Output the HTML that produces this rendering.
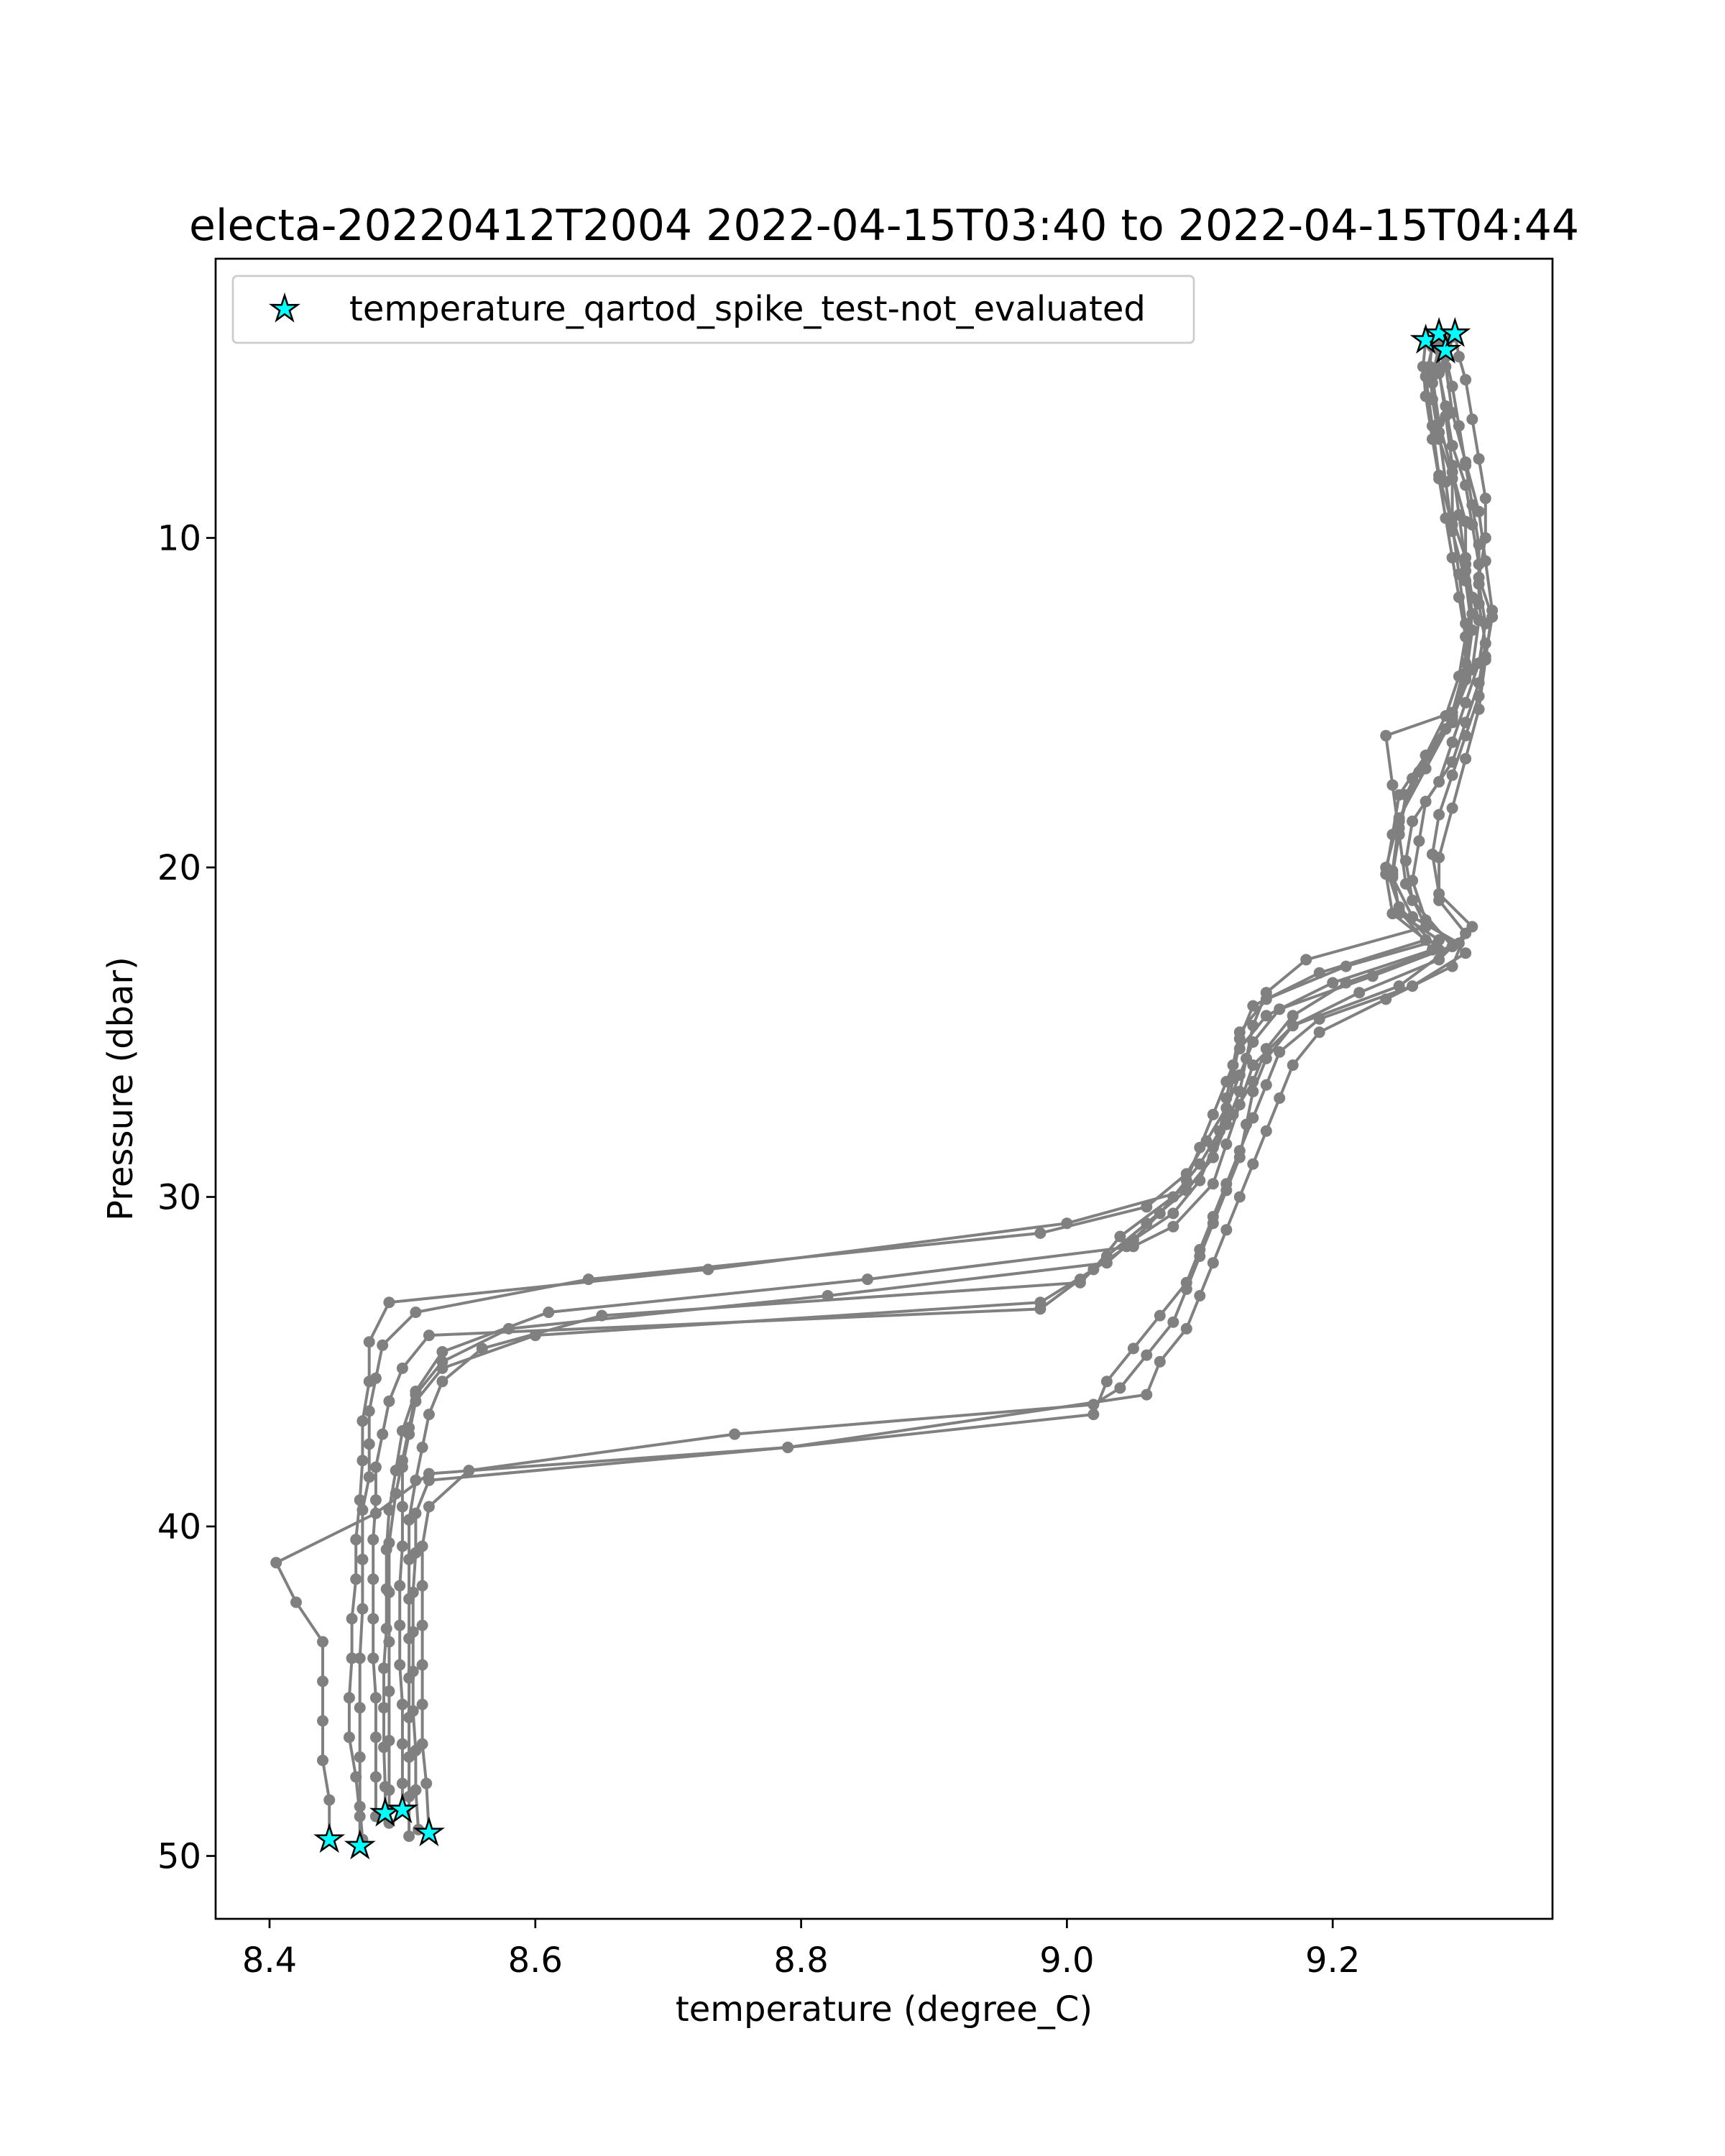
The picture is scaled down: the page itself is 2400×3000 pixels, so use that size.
<!DOCTYPE html>
<html><head><meta charset="utf-8"><style>
html,body{margin:0;padding:0;background:#fff;}
svg{display:block;font-family:"DejaVu Sans","Liberation Sans",sans-serif;}
</style></head><body>
<svg id="chart" width="2400" height="3000" viewBox="0 0 2400 3000" xmlns="http://www.w3.org/2000/svg">
<rect width="2400" height="3000" fill="#fff"/>
<text x="1230" y="334" font-size="60" text-anchor="middle">electa-20220412T2004 2022-04-15T03:40 to 2022-04-15T04:44</text>
<g id="plot"></g>
<g id="axes"></g>
<rect x="300" y="360" width="1860" height="2310" fill="none" stroke="#000" stroke-width="2.7"/>
<g>
<rect x="324" y="384" width="1337" height="93" rx="6" fill="#fff" fill-opacity="0.8" stroke="#ccc" stroke-width="2.7"/>
<path id="legstar" fill="#00ffff" stroke="#000" stroke-width="2.5"/>
<text x="486" y="446" font-size="48">temperature_qartod_spike_test-not_evaluated</text>
</g>
<text x="1230" y="2812" font-size="48" text-anchor="middle">temperature (degree_C)</text>
<text x="0" y="0" font-size="48" text-anchor="middle" transform="translate(184,1515) rotate(-90)">Pressure (dbar)</text>
</svg>
<script>
const xTicks = [8.4, 8.6, 8.8, 9.0, 9.2];
const xTickLabels = ["8.4", "8.6", "8.8", "9.0", "9.2"];
const yTicks = [10, 20, 30, 40, 50];
const yTickLabels = ["10", "20", "30", "40", "50"];
const profilePressures = [
[4.0,4.8,5.7,7,8.2,9.4,10.6,11.8,13,14.2,15.4,16.6,17.8,19,20.2,21.4,22.2,23.2,24.2,25.2,26.4,27.6,28.8,29.8,30.8,32.2,33.2,34.4,35.6,36.8,38,39.2,40.4,41.6,42.8,44,45.2,46.4,47.6,48.8,49.7],
[3.8,4.5,5.4,6.6,7.8,9,10.2,11.4,12.6,13.8,15,16.2,17.4,18.6,19.8,21,22.4,23.6,24.8,26,27.2,28.4,29.6,30.9,31.5,32.5,33.5,34.7,35.9,37.1,38.3,39.5,40.7,41.9,43.1,44.3,45.5,46.7,47.9,48.7],
[4.3,5.0,6,7.2,8.4,9.6,10.8,12,13.2,14.4,15.6,16.8,18,19.2,20.4,21.6,22.6,23.6,24.6,25.6,26.6,27.6,28.6,29.6,30.6,31.6,32.6,33.6,34.6,35.6,36.6,37.6,38.4,39.6,41.1,42.3,43.5,44.7,45.9,47.1,48.3,49.5],
[3.8,4.5,5.2,6.4,7.6,8.8,10,11.2,12.4,13.6,14.8,16,17.2,18.4,19.6,20.8,21.8,22.8,23.8,24.8,25.8,26.8,27.8,28.8,29.8,30.8,31.8,32.8,33.8,34.8,35.8,36.3,37.2,38.3,39.4,40.6,41.8,43,44.2,45.4,46.6,47.8,49.3],
[4.0,4.8,5.8,7,8.2,9.4,10.6,11.8,13,14.2,15.4,16.6,17.8,19,20.2,21.4,22.2,23,24,25,26,27,28,29,30,31.2,32.2,33.2,34.2,35.2,36.2,37.2,38.2,39.4,40.6,41.8,43,44.2,45.4,46.6,47.8,48.6],
[4.2,5.1,6.5,8,9.5,11,12.5,14,15.5,17,18.5,20,21.2,22.5,23.5,24.5,25.5,26.5,27.5,28.5,29.5,30.5,31.3,32,33,34,35,36,37,38,39,40.5,42,43.5,45,46.5,48,49],
[4.3,5.3,6.8,8.3,9.8,11.3,12.8,14.3,15.8,17.3,18.8,20.3,21.5,22.3,23.3,24.3,25.3,26.3,27.3,28.3,29.3,30.3,31.1,32.5,33.5,34.5,35.5,36.5,37.5,38.5,39.5,41,42.5,44,45.5,47,48.5,49.5],
[3.9,4.8,6.2,7.7,9.2,10.7,12.2,13.7,15.2,16.7,18.2,19.7,21,22,23,24,25,26,27,28,29,30,31,32,33,34,35,36,37.6,38.6,39.6,40.8,42,43.2,44.4,45.6,46.8,48,49.2],
[4.2,5.1,6.6,8.1,9.6,11.1,12.6,14.1,15.6,17.1,18.6,20.1,21.3,22.5,23.5,24.5,25.5,26.5,27.5,28.5,29.5,30.5,31.5,32.5,33.4,34.2,35.2,36.2,37.2,38.2,39.2,40.4,41.6,42.8,44,45.2,46.4,47.6,48.8],
[4.0,4.9,6.3,7.8,9.3,10.8,12.3,13.8,15.3,16,17.5,19,20.5,21.8,22.8,23.8,24.8,25.8,26.8,27.8,28.8,29.8,30.8,31.8,32.6,33.6,34.6,35.6,36.6,37.6,38.6,39.8,41,42.2,43.4,44.6,45.8,47,48.2,49.4]
];
const profileTemps = [
[9.27,9.268,9.27,9.275,9.28,9.285,9.29,9.295,9.30,9.30,9.29,9.27,9.25,9.245,9.24,9.245,9.27,9.19,9.14,9.13,9.125,9.12,9.11,9.09,9.0,8.73,8.49,8.475,8.475,8.47,8.47,8.468,8.465,8.465,8.462,8.462,8.46,8.46,8.465,8.468,8.468],
[9.28,9.285,9.29,9.295,9.30,9.305,9.31,9.31,9.315,9.31,9.30,9.29,9.28,9.26,9.255,9.26,9.29,9.25,9.17,9.14,9.13,9.12,9.11,9.08,9.05,8.85,8.61,8.53,8.51,8.50,8.495,8.49,8.488,8.488,8.488,8.486,8.486,8.486,8.487,8.487],
[9.285,9.28,9.285,9.29,9.30,9.305,9.31,9.31,9.315,9.31,9.30,9.29,9.27,9.265,9.26,9.27,9.30,9.26,9.19,9.16,9.15,9.14,9.13,9.12,9.11,9.10,9.09,9.07,9.05,9.03,9.02,8.79,8.52,8.48,8.405,8.42,8.44,8.44,8.44,8.44,8.445,8.445],
[9.292,9.295,9.30,9.305,9.31,9.315,9.315,9.31,9.32,9.315,9.31,9.30,9.29,9.28,9.275,9.28,9.305,9.28,9.22,9.17,9.15,9.14,9.135,9.13,9.12,9.11,9.10,9.09,9.08,9.06,9.04,9.02,8.75,8.55,8.52,8.515,8.515,8.515,8.515,8.515,8.515,8.518,8.52],
[9.275,9.273,9.275,9.28,9.29,9.29,9.30,9.305,9.30,9.295,9.285,9.27,9.255,9.25,9.245,9.25,9.28,9.21,9.15,9.13,9.125,9.12,9.115,9.10,9.08,9.04,9.02,8.98,8.60,8.53,8.51,8.505,8.50,8.50,8.50,8.498,8.498,8.498,8.50,8.50,8.50,8.50],
[9.28,9.275,9.28,9.29,9.30,9.30,9.31,9.305,9.29,9.27,9.25,9.24,9.25,9.28,9.21,9.17,9.15,9.14,9.125,9.11,9.10,9.08,9.05,9.03,8.82,8.58,8.53,8.51,8.505,8.50,8.495,8.49,8.49,8.49,8.49,8.49,8.49,8.49],
[9.28,9.275,9.28,9.285,9.29,9.30,9.305,9.30,9.285,9.26,9.25,9.245,9.26,9.295,9.23,9.16,9.14,9.13,9.12,9.105,9.09,9.06,8.98,8.64,8.51,8.485,8.48,8.475,8.475,8.475,8.47,8.47,8.47,8.468,8.468,8.468,8.468,8.47],
[9.29,9.285,9.29,9.30,9.31,9.315,9.32,9.315,9.31,9.30,9.29,9.28,9.28,9.30,9.29,9.24,9.19,9.17,9.16,9.15,9.14,9.13,9.12,9.11,9.10,9.09,9.07,9.06,8.79,8.52,8.51,8.51,8.508,8.508,8.508,8.508,8.51,8.51,8.512],
[9.275,9.27,9.275,9.28,9.29,9.295,9.30,9.30,9.29,9.265,9.25,9.245,9.25,9.275,9.20,9.15,9.13,9.12,9.11,9.10,9.09,9.07,9.045,9.01,8.98,8.52,8.50,8.49,8.485,8.48,8.48,8.478,8.478,8.478,8.478,8.48,8.48,8.48,8.48],
[9.28,9.28,9.285,9.29,9.295,9.30,9.305,9.30,9.29,9.24,9.245,9.25,9.255,9.27,9.18,9.15,9.14,9.135,9.13,9.12,9.11,9.09,9.06,9.03,9.01,8.65,8.56,8.53,8.52,8.515,8.51,8.505,8.505,8.505,8.505,8.505,8.505,8.505,8.505,8.505]
];
const starTemps = [9.27, 9.28, 9.285, 9.292, 8.445, 8.468, 8.487, 8.50, 8.52];
const starPressures = [4.0, 3.8, 4.3, 3.8, 49.5, 49.7, 48.7, 48.6, 49.3];

const NS = "http://www.w3.org/2000/svg";
function xScale(t){ return 375 + (t - 8.4) * 1849; }
function yScale(p){ return 748.5 + (p - 10) * 45.85; }
function starPath(cx, cy, R){
  const r = R * 0.38; let d = "";
  for (let i = 0; i < 10; i++){
    const a = -Math.PI/2 + i*Math.PI/5, rr = i%2 ? r : R;
    d += (i ? "L" : "M") + (cx + rr*Math.cos(a)).toFixed(1) + "," + (cy + rr*Math.sin(a)).toFixed(1);
  }
  return d + "Z";
}
const plot = document.getElementById("plot");
const axes = document.getElementById("axes");
profileTemps.forEach((temps, k) => {
  const pres = profilePressures[k];
  const n = Math.min(temps.length, pres.length);
  const g = document.createElementNS(NS, "g");
  
  
  let pts = [];
  for (let i = 0; i < n; i++) pts.push(xScale(temps[i]).toFixed(1) + "," + yScale(pres[i]).toFixed(1));
  const pl = document.createElementNS(NS, "polyline");
  pl.setAttribute("points", pts.join(" "));
  pl.setAttribute("fill", "none"); pl.setAttribute("stroke", "#808080"); pl.setAttribute("stroke-width", "4");
  
  
  g.appendChild(pl);
  for (let i = 0; i < n; i++){
    const c = document.createElementNS(NS, "circle");
    c.setAttribute("cx", xScale(temps[i]).toFixed(1)); c.setAttribute("cy", yScale(pres[i]).toFixed(1));
    c.setAttribute("r", "8"); c.setAttribute("fill", "#808080");
    
    
    g.appendChild(c);
  }
  plot.appendChild(g);
});
starTemps.forEach((t, i) => {
  const s = document.createElementNS(NS, "path");
  s.setAttribute("d", starPath(xScale(t), yScale(starPressures[i]), 19));
  s.setAttribute("fill", "#00ffff"); s.setAttribute("stroke", "#000"); s.setAttribute("stroke-width", "2.5");
  
  
  plot.appendChild(s);
});
document.getElementById("legstar").setAttribute("d", starPath(396, 430, 19));
xTicks.forEach((v, i) => {
  const x = xScale(v);
  const l = document.createElementNS(NS, "line");
  l.setAttribute("x1", x); l.setAttribute("x2", x); l.setAttribute("y1", 2670); l.setAttribute("y2", 2683);
  l.setAttribute("stroke", "#000"); l.setAttribute("stroke-width", "2.7");
  
  
  axes.appendChild(l);
  const tx = document.createElementNS(NS, "text");
  tx.setAttribute("x", x); tx.setAttribute("y", 2744); tx.setAttribute("font-size", "48"); tx.setAttribute("text-anchor", "middle");
  tx.textContent = xTickLabels[i];
  
  
  axes.appendChild(tx);
});
yTicks.forEach((v, i) => {
  const y = yScale(v);
  const l = document.createElementNS(NS, "line");
  l.setAttribute("x1", 287); l.setAttribute("x2", 300); l.setAttribute("y1", y); l.setAttribute("y2", y);
  l.setAttribute("stroke", "#000"); l.setAttribute("stroke-width", "2.7");
  
  
  axes.appendChild(l);
  const tx = document.createElementNS(NS, "text");
  tx.setAttribute("x", 280); tx.setAttribute("y", y + 17); tx.setAttribute("font-size", "48"); tx.setAttribute("text-anchor", "end");
  tx.textContent = yTickLabels[i];
  
  
  axes.appendChild(tx);
});
</script>
</body></html>
